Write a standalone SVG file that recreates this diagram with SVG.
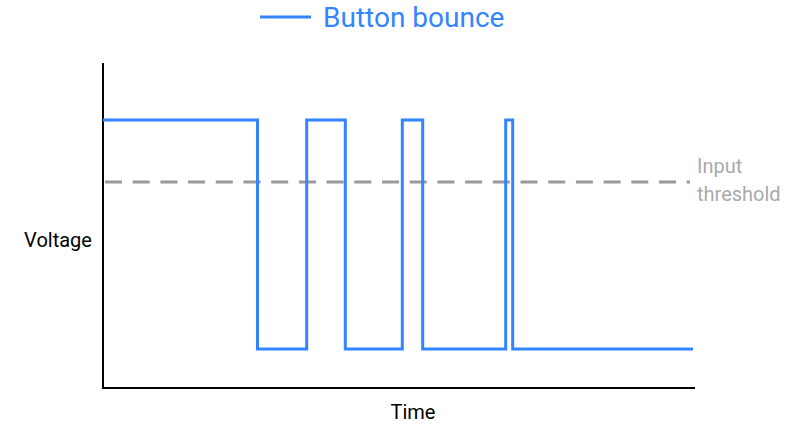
<svg xmlns="http://www.w3.org/2000/svg" width="800" height="424" viewBox="0 0 800 424">
<style>
text{font-family:Roboto,"Liberation Sans",sans-serif}
.sig{fill:none;stroke:#3385ff;stroke-width:3}
</style>
<rect width="800" height="424" fill="#fff"/>
<g id="legend">
<line x1="260" y1="17" x2="311" y2="17" stroke="#3385ff" stroke-width="3"/>
<text x="323" y="27" font-size="28" fill="#3385ff">Button bounce</text>
</g>
<g id="axes">
<polyline points="103,63 103,388 695,388" fill="none" stroke="#000" stroke-width="2"/>
<text x="58" y="247" font-size="20" text-anchor="middle" fill="#000">Voltage</text>
<text x="413" y="419" font-size="20" text-anchor="middle" fill="#000">Time</text>
</g>
<g id="threshold">
<line x1="105" y1="182" x2="690" y2="182" stroke="#999" stroke-width="3" stroke-dasharray="17,10.7"/>
<text x="697" y="173" font-size="20" fill="#aaa">Input</text>
<text x="697" y="201" font-size="20" fill="#aaa">threshold</text>
</g>
<g id="signal">
<polyline class="sig" points="103,120 257.5,120 257.5,349 306.7,349 306.7,120 345.3,120 345.3,349 402.3,349 402.3,120 422.7,120 422.7,349 505.7,349 505.7,120 512.7,120 512.7,349 693,349"/>
</g>
</svg>
